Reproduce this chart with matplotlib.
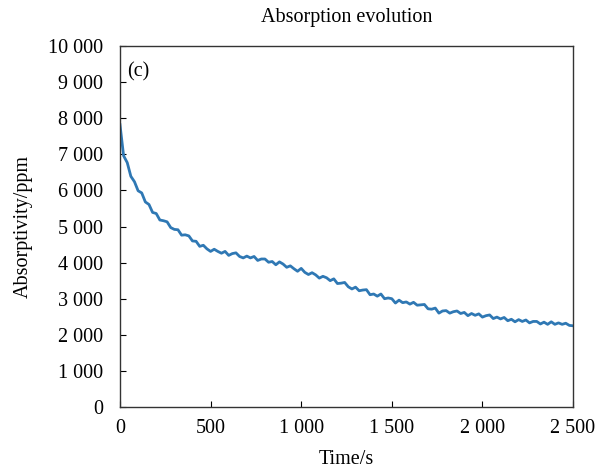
import numpy as np
import matplotlib.pyplot as plt
from matplotlib.ticker import FuncFormatter

# time axis (s), one reading every 20 s
time_s = np.arange(0, 2501, 20)

# absorptivity (ppm)
absorptivity = [
    7820, 6960, 6770, 6390, 6240, 5990, 5930, 5680, 5610, 5390,
    5360, 5180, 5160, 5130, 4970, 4920, 4910, 4760, 4770, 4740,
    4600, 4590, 4450, 4480, 4380, 4310, 4370, 4310, 4260, 4310,
    4200, 4250, 4270, 4170, 4130, 4180, 4130, 4170, 4060, 4100,
    4100, 4010, 4030, 3940, 4020, 3960, 3870, 3910, 3830, 3760,
    3840, 3730, 3670, 3720, 3660, 3570, 3620, 3580, 3500, 3550,
    3420, 3430, 3450, 3330, 3270, 3320, 3220, 3240, 3250, 3110,
    3130, 3070, 3130, 3000, 3020, 3000, 2880, 2960, 2890, 2910,
    2850, 2900, 2820, 2830, 2840, 2720, 2710, 2740, 2600, 2660,
    2670, 2600, 2640, 2660, 2590, 2620, 2530, 2590, 2540, 2580,
    2490, 2530, 2550, 2450, 2490, 2440, 2480, 2390, 2430, 2360,
    2420, 2370, 2410, 2330, 2370, 2370, 2300, 2350, 2290, 2360,
    2290, 2330, 2290, 2320, 2260, 2250,
]

x_ticks = [0, 500, 1000, 1500, 2000, 2500]
y_ticks = list(range(0, 10001, 1000))

plt.rcParams['font.family'] = ['Liberation Serif', 'DejaVu Serif']
fs = 14.5


def space_sep(v, pos):
    # thousands separated by a space, as in the original
    return f"{int(v):,}".replace(",", " ")


fig = plt.figure(figsize=(5.99, 4.69), dpi=100)
ax = fig.add_axes([0.2003, 0.1322, 0.7563, 0.7697])

ax.plot(time_s, absorptivity, color='#2f78b4', lw=2.0)

ax.set_xlim(0, 2500)
ax.set_ylim(0, 10000)
ax.set_xticks(x_ticks)
ax.set_yticks(y_ticks)
ax.xaxis.set_major_formatter(FuncFormatter(space_sep))
ax.yaxis.set_major_formatter(FuncFormatter(space_sep))
ax.tick_params(axis='both', direction='in', length=4, width=0.8, labelsize=fs)
ax.tick_params(axis='x', pad=9)
ax.tick_params(axis='y', pad=12)
for s in ax.spines.values():
    s.set_color('#333333')
    s.set_linewidth(1.0)

ax.set_xlabel('Time/s', fontsize=fs, labelpad=8)
ax.set_ylabel('Absorptivity/ppm', fontsize=fs, labelpad=11)
ax.set_title('Absorption evolution', fontsize=fs, pad=17)
ax.text(0.015, 0.955, '(c)', transform=ax.transAxes, fontsize=fs, va='top', ha='left')

fig.savefig('out.png', dpi=100)
